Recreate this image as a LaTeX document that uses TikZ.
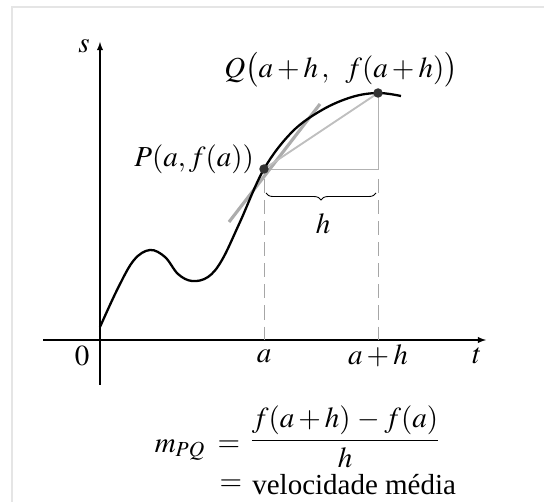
\documentclass[tikz,border=0pt]{standalone}
\usepackage{amsmath}
\usepackage{mathptmx}
\usepackage{fontspec}
\setmainfont{Liberation Serif}
\usetikzlibrary{decorations.pathreplacing}

\tikzset{
  lbl/.style={font=\fontsize{16.5}{19}\selectfont, inner sep=1pt},
  axis/.style={line width=0.6pt, -latex},
  guide/.style={gray!70, line width=0.5pt, dash pattern=on 8pt off 4pt},
  thinguide/.style={gray!60, line width=0.5pt},
  secant/.style={gray!50, line width=1.1pt},
  tangent/.style={gray!65, line width=1.8pt},
  dot/.style={fill=black!80}
}

\begin{document}
\begin{tikzpicture}[x=0.02cm, y=-0.02cm]
        \useasboundingbox (0,0) rectangle (544,502);
        % frame of the scan
        \draw[gray!20, line width=0.6pt] (544,7) -- (12,7) -- (12,502);

        % axes
        \coordinate (O) at (100,340);
        \draw[axis] (43,340) -- (486,340);
        \draw[axis] (100,385) -- (100,42);
        \node[lbl] (s) at (84,46) {$s$};
        \node[lbl] (t) at (477,356) {$t$};
        \node[lbl] (zero) at (82,356) {$0$};

        \coordinate (P) at (264,169);
        \coordinate (Q) at (378,93);
        \coordinate (tanA) at (229,222);
        \coordinate (tanB) at (320,104);

        % guides down to the axis
        \draw[guide] (P) ++(0,10) -- (P |- O);
        \draw[guide] (Q |- P) ++(0,10) -- (Q |- O);
        \draw[thinguide] (P) -- (Q |- P) -- (Q);
        \draw[decorate, decoration={brace, mirror, amplitude=4pt}, line width=0.5pt]
          (266,193) -- (376,193);
        \node[lbl] (h) at (323,224) {$h$};

        \node[lbl] (a) at (264,356) {$a$};
        \node[lbl] (ah) at (378,356) {$a + h$};

        % tangent and secant
        \draw[tangent] (tanA) -- (tanB);
        \draw[secant] (P) -- (Q);

        % the curve
        \draw[line width=1.3pt] plot[smooth, tension=0.6] coordinates {
          (100,327) (118,288) (134,260) (150,250) (165,257) (178,274)
          (192,281) (208,277) (222,260) (240,222) (264,169) (292,132)
          (322,110) (352,97) (378,93) (401,96)};

        \fill[dot] (P) circle (2.7pt);
        \fill[dot] (Q) circle (2.7pt);

        \node[lbl, anchor=east] (Plbl) at (256,159) {$P(a, f(a))$};
        \node[lbl] (Qlbl) at (341,70) {$Q\bigl(a + h\,,\;\; f(a + h)\bigr)$};

        % average velocity
        \node[lbl] (mpq) at (180,450) {$m_{PQ}$};
        \node[lbl] (eqa) at (229,446) {$=$};
        \node[lbl, inner sep=0pt] (frac) at (345,437) {$\dfrac{f(a + h)\,-f(a)}{h}$};
        \node[lbl] (eqb) at (231,485) {$=$};
        \node[lbl, anchor=west, inner sep=0pt] (vel) at (252,485) {velocidade média};
      \end{tikzpicture}
\end{document}
